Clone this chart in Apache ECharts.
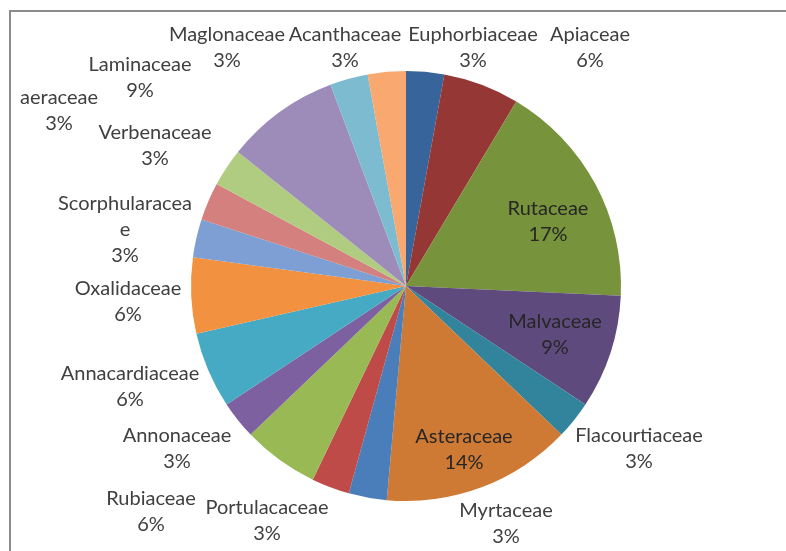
<!DOCTYPE html>
<html>
<head>
<meta charset="utf-8">
<script src="https://cdn.jsdelivr.net/npm/echarts@6/dist/echarts.min.js"></script>
<style>
  html, body { margin: 0; padding: 0; background: #fff; }
  #chart { width: 786px; height: 551px; }
</style>
</head>
<body>
<div id="chart"></div>
<script>
// families, clockwise from 12 o'clock (number of species, 35 total)
var families = ['Euphorbiaceae', 'Apiaceae', 'Rutaceae', 'Malvaceae', 'Flacourtiaceae',
    'Asteraceae', 'Myrtaceae', 'Portulacaceae', 'Rubiaceae', 'Annonaceae',
    'Annacardiaceae', 'Oxalidaceae', 'Scorphularaceae', 'Verbenaceae', 'aeraceae',
    'Laminaceae', 'Maglonaceae', 'Acanthaceae'];
var counts = [1, 2, 6, 3, 1, 5, 1, 1, 2, 1, 2, 2, 1, 1, 1, 3, 1, 1];

var colors = ['#37649a', '#953735', '#77933c', '#5f4a7e', '#31849b',
    '#cf7a34', '#4a7ebb', '#be4b48', '#98b954', '#7d60a0',
    '#46aac5', '#f2913f', '#7d9fd3', '#d3807e', '#b0cc80',
    '#9d8bba', '#7dbcd0', '#f9a870'];

// labels drawn on the slice instead of beside it
var insideLabels = ['Rutaceae', 'Malvaceae', 'Asteraceae'];

// label centres, same order as families (Excel "best fit" placement)
var labelPos = [
    [473, 48], [590, 48], [548, 222], [555, 335], [639, 449],
    [464, 450], [506, 524], [267, 521], [151, 512], [177, 449],
    [130, 387], [128, 302], [125, 230], [155, 146], [59, 111],
    [140, 78], [227, 48], [345, 48]
];

var total = counts.reduce(function (a, b) { return a + b; }, 0);

var pieData = families.map(function (name, i) {
    var item = { name: name, value: counts[i], itemStyle: { color: colors[i] } };
    if (insideLabels.indexOf(name) >= 0) {
        item.label = { color: '#262626' };
    }
    if (name === 'Scorphularaceae') {
        item.label = { width: 136, overflow: 'breakAll' };
    }
    return item;
});

var chart = echarts.init(document.getElementById('chart'));

var option = {
    animation: false,
    graphic: [{
        type: 'rect',
        shape: { x: 10, y: 11, width: 800, height: 600 },
        style: { fill: 'none', stroke: '#8c8c8c', lineWidth: 2 },
        silent: true
    }],
    series: [{
        type: 'pie',
        center: [406, 286],
        radius: 215,
        startAngle: 90,
        clockwise: true,
        avoidLabelOverlap: false,
        data: pieData,
        itemStyle: { borderWidth: 0 },
        label: {
            show: true,
            position: 'outside',
            color: '#404040',
            fontFamily: 'Lato',
            fontSize: 20,
            lineHeight: 26,
            align: 'center',
            formatter: function (p) {
                return p.name + '\n' + Math.round(p.value / total * 100) + '%';
            }
        },
        labelLine: { show: false },
        labelLayout: function (params) {
            var pos = labelPos[params.dataIndex];
            return {
                x: pos[0],
                y: pos[1],
                align: 'center',
                verticalAlign: 'middle'
            };
        }
    }]
};

chart.setOption(option);
</script>
</body>
</html>
